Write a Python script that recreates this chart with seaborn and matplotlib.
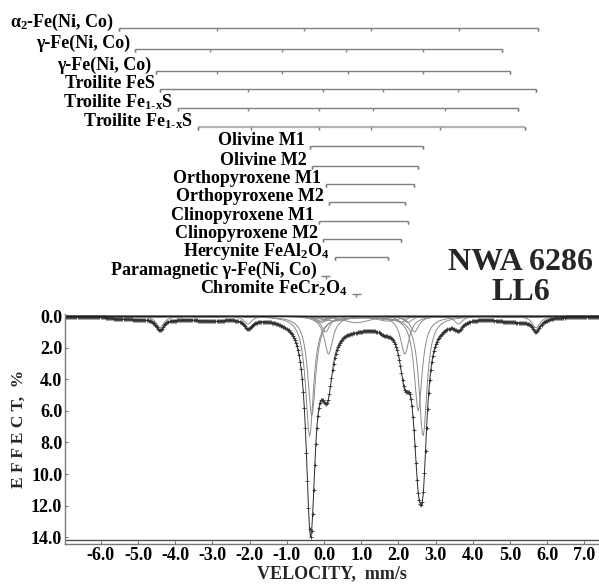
import numpy as np
import pandas as pd
import matplotlib
matplotlib.use("Agg")
import matplotlib.pyplot as plt
import seaborn as sns

# ---------------- data ----------------
velocity_ticks = [-6.0, -5.0, -4.0, -3.0, -2.0, -1.0, 0.0, 1.0, 2.0, 3.0, 4.0, 5.0, 6.0, 7.0]
velocity_labels = ["-6.0", "-5.0", "-4.0", "-3.0", "-2.0", "-1.0", "0.0", "1.0",
                   "2.0", "3.0", "4.0", "5.0", "6.0", "7.0"]
effect_ticks = [0.0, 2.0, 4.0, 6.0, 8.0, 10.0, 12.0, 14.0]
effect_labels = ["0.0", "2.0", "4.0", "6.0", "8.0", "10.0", "12.0", "14.0"]

component_names = [
    r"$\alpha_2$-Fe(Ni, Co)",
    "γ-Fe(Ni, Co)",
    "γ-Fe(Ni, Co)",
    "Troilite FeS",
    r"Troilite Fe$_{1\text{-}x}$S",
    r"Troilite Fe$_{1\text{-}x}$S",
    "Olivine M1",
    "Olivine M2",
    "Orthopyroxene M1",
    "Orthopyroxene M2",
    "Clinopyroxene M1",
    "Clinopyroxene M2",
    r"Hercynite FeAl$_2$O$_4$",
    "Paramagnetic γ-Fe(Ni, Co)",
    r"Chromite FeCr$_2$O$_4$",
]

# line positions (mm/s) of each component
alpha2_lines = [-5.51, -2.89, -0.53, 1.27, 3.63, 5.76]
gamma1_lines = [-5.08, -3.07, -1.14, 0.59, 2.67, 4.77]
gamma2_lines = [-4.52, -2.87, -1.14, 0.63, 2.65, 4.99]
troilite_fes_lines = [-4.41, -2.05, -0.02, 1.59, 3.61, 5.70]
troilite_fe1x_a_lines = [-3.94, -2.05, -0.13, 1.32, 3.24, 5.22]
troilite_fe1x_b_lines = [-3.40, -1.97, -0.13, 1.27, 3.12, 5.41]
olivine_m1_lines = [-0.39, 2.66]
olivine_m2_lines = [-0.33, 2.53]
opx_m1_lines = [0.04, 2.43]
opx_m2_lines = [0.12, 2.17]
cpx_m1_lines = [-0.14, 2.25]
cpx_m2_lines = [-0.04, 2.08]
hercynite_lines = [0.28, 1.71]
para_gamma_lines = [0.04]
chromite_lines = [0.87]

# line depths (% effect)
alpha2_depths = [0.10, 0.07, 0.03, 0.03, 0.07, 0.10]
gamma1_depths = [0.10, 0.07, 0.03, 0.03, 0.07, 0.10]
gamma2_depths = [0.10, 0.07, 0.03, 0.03, 0.07, 0.10]
troilite_fes_depths = [0.72, 0.50, 0.22, 0.22, 0.50, 0.75]
troilite_fe1x_a_depths = [0.10, 0.07, 0.04, 0.04, 0.07, 0.10]
troilite_fe1x_b_depths = [0.10, 0.07, 0.04, 0.04, 0.07, 0.10]
olivine_m1_depths = [7.6, 7.6]
olivine_m2_depths = [6.3, 6.0]
opx_m1_depths = [1.0, 1.0]
opx_m2_depths = [2.4, 2.4]
cpx_m1_depths = [0.4, 0.4]
cpx_m2_depths = [0.4, 0.4]
hercynite_depths = [0.3, 0.3]
para_gamma_depths = [0.3]
chromite_depths = [0.42]

# half widths (mm/s)
half_widths = [0.28, 0.35, 0.35, 0.13, 0.25, 0.25, 0.13, 0.13, 0.14, 0.14,
               0.14, 0.14, 0.35, 0.15, 0.45]

residual_level = 14.15
velocity_range = (-6.965, 7.39)
n_channels = 512

component_lines = [alpha2_lines, gamma1_lines, gamma2_lines, troilite_fes_lines,
                   troilite_fe1x_a_lines, troilite_fe1x_b_lines, olivine_m1_lines,
                   olivine_m2_lines, opx_m1_lines, opx_m2_lines, cpx_m1_lines,
                   cpx_m2_lines, hercynite_lines, para_gamma_lines, chromite_lines]
component_depths = [alpha2_depths, gamma1_depths, gamma2_depths, troilite_fes_depths,
                    troilite_fe1x_a_depths, troilite_fe1x_b_depths, olivine_m1_depths,
                    olivine_m2_depths, opx_m1_depths, opx_m2_depths, cpx_m1_depths,
                    cpx_m2_depths, hercynite_depths, para_gamma_depths, chromite_depths]

# ---------------- layout (pixels of the 599x586 picture) ----------------
bar_rows_px = [28.3, 49.3, 71.0, 89.0, 108.3, 127.3, 145.7, 165.7, 184.0,
               202.3, 220.7, 239.0, 257.3, 276.0, 294.3]
FIG_W, FIG_H = 599, 586
AX_LEFT, AX_RIGHT, AX_TOP, AX_BOTTOM = 65, 599, 314, 544.3

# ---------------- style ----------------
sns.set_theme(style="white")
plt.rcParams["font.family"] = ["Liberation Serif", "DejaVu Serif"]
plt.rcParams["font.weight"] = "bold"
plt.rcParams["mathtext.fontset"] = "custom"
plt.rcParams["mathtext.rm"] = "Liberation Serif:bold"
plt.rcParams["mathtext.it"] = "Liberation Serif:italic:bold"
plt.rcParams["mathtext.bf"] = "Liberation Serif:bold"
plt.rcParams["mathtext.default"] = "rm"
plt.rcParams["axes.unicode_minus"] = False

fig = plt.figure(figsize=(FIG_W / 100, FIG_H / 100), dpi=100)
ax = fig.add_axes([AX_LEFT / FIG_W, 1 - AX_BOTTOM / FIG_H,
                   (AX_RIGHT - AX_LEFT) / FIG_W, (AX_BOTTOM - AX_TOP) / FIG_H])
ax_top = fig.add_axes([AX_LEFT / FIG_W, 1 - AX_TOP / FIG_H,
                       (AX_RIGHT - AX_LEFT) / FIG_W, AX_TOP / FIG_H])

# ---------------- spectrum ----------------
v = np.linspace(velocity_range[0], velocity_range[1], n_channels)


def lorentz_sum(lines, depths, hw):
    out = np.zeros_like(v)
    for c, d in zip(lines, depths):
        out += d / (1.0 + ((v - c) / hw) ** 2)
    return out


curves = [lorentz_sum(l, d, w) for l, d, w in zip(component_lines, component_depths, half_widths)]
envelope = np.sum(curves, axis=0)

for k, cv in enumerate(curves):
    sns.lineplot(x=v, y=cv, ax=ax, color="#8a8a8a", lw=0.7, sort=False)

sns.lineplot(x=v, y=envelope, ax=ax, color="#2a2a2a", lw=0.7, sort=False,
             marker="+", markersize=3.2, markeredgewidth=0.6, markeredgecolor="#303030")
sns.lineplot(x=v, y=np.full_like(v, residual_level), ax=ax, color="#505050", lw=1.0, sort=False)
sns.lineplot(x=v, y=np.zeros_like(v), ax=ax, color="#202020", lw=1.0, sort=False)

ax.set_xlim(*velocity_range)
ax.set_ylim(14.45, -0.13)
ax.set_xticks(velocity_ticks)
ax.set_xticklabels(velocity_labels, fontsize=13, fontweight="bold")
ax.set_yticks(effect_ticks)
ax.set_yticklabels(effect_labels, fontsize=13, fontweight="bold")
ax.tick_params(axis="both", direction="in", length=2.5, width=0.8, color="#777777",
               pad=2, bottom=True, left=True, labelcolor="black")
for s in ["top", "right"]:
    ax.spines[s].set_visible(False)
for s in ["left", "bottom"]:
    ax.spines[s].set_color("#7a7a7a")
    ax.spines[s].set_linewidth(1.0)
ax.set_xlabel("VELOCITY,  mm/s", fontsize=13, fontweight="bold", labelpad=1)
ax.set_ylabel("E F F E C T,  %", fontsize=12.5, fontweight="bold", labelpad=3)
ax.grid(False)

# ---------------- line-position bar diagrams ----------------
ax_top.set_xlim(*velocity_range)
ax_top.set_ylim(AX_TOP, 0)
ax_top.axis("off")
tick_len = 3.0
for k, (name, lines, y) in enumerate(zip(component_names, component_lines, bar_rows_px)):
    col = "#b5b5b5" if k == 5 else "#7f7f7f"
    lw = 1.6 if k == 5 else 1.0
    if len(lines) == 1:
        x0, x1 = lines[0] - 0.12, lines[0] + 0.12
    else:
        x0, x1 = min(lines), max(lines)
    ax_top.hlines(y, x0, x1, color=col, lw=lw)
    ax_top.vlines(lines, y, y + tick_len, color="#7f7f7f", lw=1.0)
    if len(lines) > 1:
        ax_top.vlines([x0, x1], y, y + tick_len, color="#7f7f7f", lw=1.0)
    ax_top.annotate(name, xy=(x0, y), xytext=(-3.5, 0.8), textcoords="offset points",
                    ha="right", va="baseline", fontsize=13, fontweight="bold",
                    color="black", annotation_clip=False)

fig.text(521 / FIG_W, 1 - 262 / FIG_H, "NWA 6286", ha="center", va="center",
         fontsize=23, fontweight="bold")
fig.text(521 / FIG_W, 1 - 292 / FIG_H, "LL6", ha="center", va="center",
         fontsize=23, fontweight="bold")

fig.savefig("out.png", dpi=100)
